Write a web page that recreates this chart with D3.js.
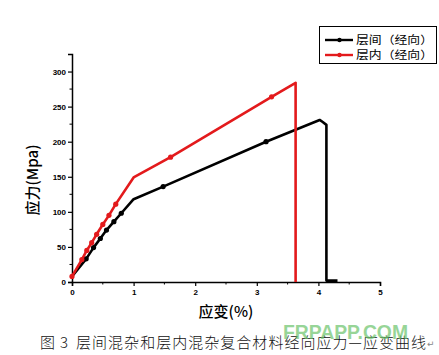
<!DOCTYPE html>
<html><head><meta charset="utf-8">
<script src="https://cdn.jsdelivr.net/npm/d3@7"></script>
<style>body{margin:0;background:#fff;}svg{display:block;}</style>
</head><body>
<svg id="c" width="439" height="355"></svg>
<script>
const seriesNames = ["层间（经向）", "层内（经向）"];
const seriesColors = ["#000000", "#e31a1c"];
// strain (%) values
const interStrain = [0, 0.23, 0.35, 0.46, 0.56, 0.68, 0.8, 1.0, 1.48, 3.15, 4.02, 4.07, 4.13, 4.13, 4.31];
const interStress = [8, 33, 49, 62, 74, 86, 98, 118, 136, 200, 231, 228, 224, 2, 2];
const interMarkers = [1, 2, 3, 4, 5, 6, 8, 9];
const intraStrain = [0, 0.16, 0.24, 0.32, 0.4, 0.5, 0.6, 0.71, 1.0, 1.6, 3.24, 3.63, 3.63];
const intraStress = [8, 32, 45, 56, 68, 82, 95, 111, 149, 178, 264, 284, 0];
const intraMarkers = [0, 1, 2, 3, 4, 5, 6, 7, 9, 10];
const xTicks = [0, 1, 2, 3, 4, 5];
const yTicks = [0, 50, 100, 150, 200, 250, 300];
const xLabel = "应变(%)";
const yLabel = "应力(Mpa)";
const captionHead = "图";
const captionNum = "3";
const captionBody = "层间混杂和层内混杂复合材料经向应力—应变曲线";

const svg = d3.select("#c");
const x = d3.scaleLinear().domain([0, 5]).range([72, 380]);
const y = d3.scaleLinear().domain([0, 325]).range([282, 54]);

// axes
const xAxis = d3.axisBottom(x).tickValues(xTicks).tickFormat(d3.format("d")).tickSize(4).tickPadding(3);
const gx = svg.append("g").attr("transform", "translate(0,282)").call(xAxis);
gx.selectAll(".tick text").attr("font-family", "Arial, Liberation Sans, sans-serif").attr("font-weight", "bold").attr("font-size", 8);
gx.append("g").selectAll("line").data(d3.range(0.5, 5, 1)).join("line")
  .attr("x1", d => x(d)).attr("x2", d => x(d)).attr("y1", 0).attr("y2", 2.5).attr("stroke", "#000");
const yAxis = d3.axisLeft(y).tickValues(yTicks).tickSize(4).tickPadding(2);
const gy = svg.append("g").attr("transform", "translate(72,0)").call(yAxis);
gy.selectAll(".tick text").attr("font-family", "Arial, Liberation Sans, sans-serif").attr("font-weight", "bold").attr("font-size", 8);
gy.append("g").selectAll("line").data(d3.range(25, 325, 50)).join("line")
  .attr("y1", d => y(d)).attr("y2", d => y(d)).attr("x1", 0).attr("x2", -2.5).attr("stroke", "#000");
svg.selectAll(".domain").attr("stroke", "#000").attr("stroke-width", 1.5);
svg.selectAll(".tick line").attr("stroke-width", 1.2);

// lines
const line = d3.line().x(d => x(d[0])).y(d => y(d[1]));
const sets = [
  {xs: interStrain, ys: interStress, m: interMarkers, c: seriesColors[0]},
  {xs: intraStrain, ys: intraStress, m: intraMarkers, c: seriesColors[1]}
];
sets.forEach(s => {
  const pts = s.xs.map((v, i) => [v, s.ys[i]]);
  svg.append("path").datum(pts).attr("d", line).attr("fill", "none")
    .attr("stroke", s.c).attr("stroke-width", 2.6).attr("stroke-linejoin", "round");
  svg.append("g").selectAll("circle").data(s.m.map(i => pts[i])).join("circle")
    .attr("cx", d => x(d[0])).attr("cy", d => y(d[1])).attr("r", 2.6).attr("fill", s.c);
});

// legend
svg.append("rect").attr("x", 319.5).attr("y", 26.5).attr("width", 117).attr("height", 37)
  .attr("fill", "#fff").attr("stroke", "#000").attr("stroke-width", 1);
seriesNames.forEach((n, i) => {
  const ly = 40 + i * 15;
  svg.append("line").attr("x1", 325).attr("x2", 353).attr("y1", ly).attr("y2", ly)
    .attr("stroke", seriesColors[i]).attr("stroke-width", 2.4);
  svg.append("circle").attr("cx", 339.5).attr("cy", ly).attr("r", 2.2).attr("fill", seriesColors[i]);
  svg.append("text").attr("x", 356).attr("y", ly + 4).text(n)
    .attr("textLength", 77).attr("lengthAdjust", "spacingAndGlyphs")
    .attr("font-family", "Noto Sans CJK SC").attr("font-size", 11).attr("fill", "#000");
});

// axis labels
svg.append("text").attr("x", 226).attr("y", 317).attr("text-anchor", "middle").text(xLabel)
  .attr("font-family", "Noto Sans CJK SC").attr("font-size", 15).attr("font-weight", 500);
svg.append("text").attr("transform", "translate(38,180) rotate(-90)").attr("text-anchor", "middle").text(yLabel)
  .attr("font-family", "Noto Sans CJK SC").attr("font-size", 15).attr("font-weight", 500);

// caption
const capFont = {family: "Noto Sans CJK SC", size: 15};
svg.append("text").attr("x", 40).attr("y", 348).text(captionHead)
  .attr("font-family", capFont.family).attr("font-size", capFont.size).attr("font-weight", 300).attr("fill", "#111");
svg.append("text").attr("x", 60).attr("y", 348).text(captionNum)
  .attr("font-family", capFont.family).attr("font-size", capFont.size).attr("font-weight", 300).attr("fill", "#111");
svg.append("text").attr("x", 76).attr("y", 348).text(captionBody)
  .attr("textLength", 350).attr("lengthAdjust", "spacing")
  .attr("font-family", capFont.family).attr("font-size", capFont.size).attr("font-weight", 300).attr("fill", "#111");
svg.append("text").attr("x", 427).attr("y", 347).text("↵")
  .attr("font-family", "DejaVu Sans").attr("font-size", 9).attr("fill", "#888");
// watermark (overlaps the caption, as in the source image)
svg.append("text").attr("x", 283).attr("y", 339).text("FRPAPP.COM")
  .attr("textLength", 125).attr("lengthAdjust", "spacingAndGlyphs")
  .attr("font-family", "Liberation Sans, Arial, sans-serif").attr("font-size", 21).attr("font-weight", "bold")
  .attr("fill", "#6cc46c").attr("opacity", 0.7);
</script>
</body></html>
